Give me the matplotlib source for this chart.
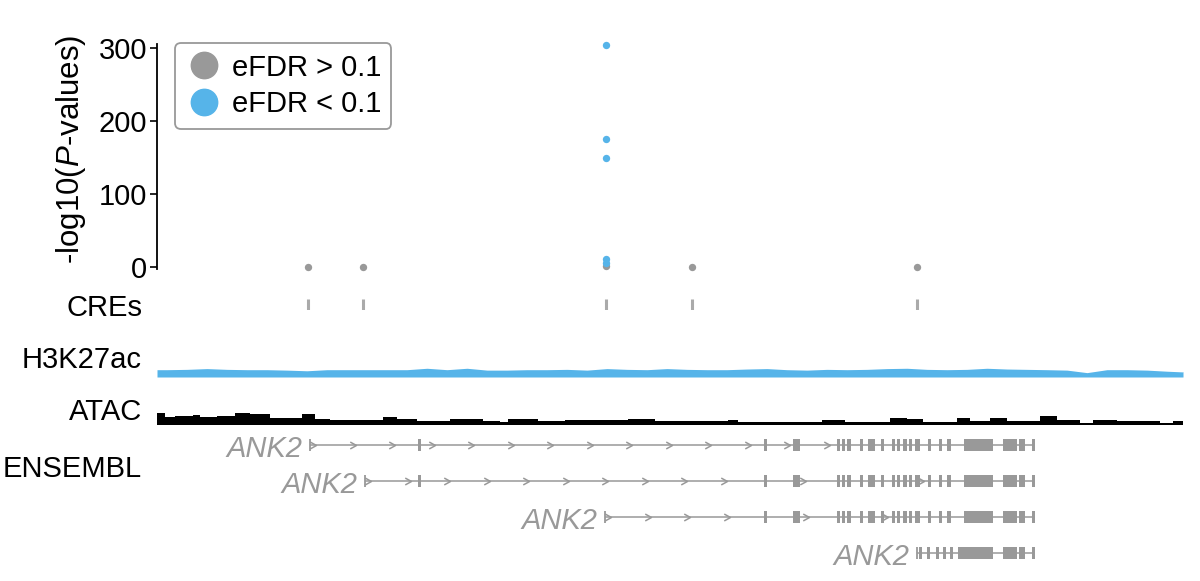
import matplotlib
matplotlib.use('agg')
import matplotlib.pyplot as plt
from matplotlib.lines import Line2D
from matplotlib.patches import Rectangle
from matplotlib.path import Path
import numpy as np

plt.rcParams['font.family'] = ['Liberation Sans', 'DejaVu Sans']
plt.rcParams['mathtext.fontset'] = 'custom'
plt.rcParams['mathtext.rm'] = 'Liberation Sans'
plt.rcParams['mathtext.it'] = 'Liberation Sans:italic'

GREY = '#999999'
BLUE = '#56B4E9'

# region in kb from the left edge of the window
region_end = 513

# CREs and SNP association results
cre_pos = [75.7, 103.2, 224.3, 267.3, 380.2]
grey_pos = [75.7, 103.2, 224.3, 267.3, 380.2]
grey_logp = [0.5, 0.2, 1.5, 0.5, 0.2]
blue_pos = [224.3, 224.3, 224.3, 224.3, 224.3]
blue_logp = [5.5, 10.5, 149, 175, 304]

# H3K27ac signal, 10 kb bins
h3_bin = 10
h3_signal = [1.34, 1.40, 1.54, 1.40, 1.34, 1.34, 1.26, 1.14, 1.34, 1.34,
             1.34, 1.34, 1.34, 1.60, 1.34, 1.60, 1.26, 1.26, 1.34, 1.34,
             1.40, 1.26, 1.54, 1.40, 1.34, 1.54, 1.40, 1.34, 1.34, 1.46,
             1.54, 1.34, 1.26, 1.40, 1.34, 1.40, 1.54, 1.60, 1.40, 1.34,
             1.40, 1.60, 1.46, 1.40, 1.34, 1.26, 0.80, 1.34, 1.34, 1.26,
             1.06, 0.90]

# ATAC signal as steps
atac_start = [0, 4, 9, 18, 21.5, 30, 39, 46.5, 56.5, 60, 72.5, 79, 86.5, 113,
              120, 130, 146.5, 163, 171.5, 175.5, 190.5, 204, 235.5, 249,
              285.5, 290.5, 332.5, 344, 366.5, 375, 383, 400, 406.5, 416.5,
              425, 441.5, 450, 461.5, 468, 480, 501.5, 508]
atac_signal = [2.34, 1.66, 1.80, 2.00, 1.60, 1.86, 2.34, 2.14, 1.34, 1.40,
               2.14, 1.14, 1.00, 1.66, 1.20, 0.86, 1.14, 0.80, 0.66, 1.20,
               0.80, 0.94, 1.20, 0.86, 1.00, 0.66, 1.00, 0.66, 1.46, 1.20,
               0.66, 1.34, 0.80, 1.34, 0.80, 1.80, 1.00, 0.46, 1.00, 0.86,
               0.46, 0.80]

# ENSEMBL transcripts of ANK2 (kb)
shared_exons = [(340.0, 341.5), (342.5, 344.0), (344.75, 346.75), (351.5, 353.0),
                (355.25, 359.0), (362.0, 363.5), (367.5, 369.0), (370.0, 371.5),
                (372.75, 375.0), (376.0, 377.5), (378.75, 381.5), (385.5, 387.0),
                (391.0, 392.5), (394.75, 397.0), (403.5, 418.0), (423.0, 430.0),
                (431.0, 434.0), (437.5, 439.0)]
tx_names = ['ANK2', 'ANK2', 'ANK2', 'ANK2']
tx_start = [76.5, 104.0, 224.0, 380.0]
tx_exons = [
    [(130.5, 132.0), (303.5, 305.0), (317.75, 321.25)] + shared_exons,
    [(130.5, 132.0), (303.5, 305.0), (317.75, 321.25)] + shared_exons,
    [(303.5, 305.0), (317.75, 321.25)] + shared_exons,
    [(381.0, 382.5), (385.0, 386.5), (389.25, 390.75), (393.0, 394.5),
     (396.25, 397.75), (400.5, 418.0), (423.0, 430.0), (431.0, 434.0),
     (437.5, 439.0)],
]

W, H = 1200, 581


def px_box(x0, y0, x1, y1):
    return [x0 / W, 1 - y1 / H, (x1 - x0) / W, (y1 - y0) / H]


fig = plt.figure(figsize=(W / 100, H / 100), dpi=100)

# -log10 P panel
ax = fig.add_axes(px_box(157, 43.6, 1183, 269.2))
ax.scatter(grey_pos, grey_logp, s=28, color=GREY, lw=0, zorder=2, clip_on=False)
ax.scatter(blue_pos, blue_logp, s=28, color=BLUE, lw=0, zorder=3, clip_on=False)
ax.set_xlim(0, region_end)
ax.set_ylim(-3, 306)
ax.set_yticks([0, 100, 200, 300])
ax.tick_params(axis='y', labelsize=21, length=5, width=1.2, pad=2)
ax.set_xticks([])
for side in ['top', 'right', 'bottom']:
    ax.spines[side].set_visible(False)
ax.spines['left'].set_linewidth(1.3)
fig.text(71 / W, 1 - 149 / H, '-log10($\\mathit{P}$-values)', rotation=90,
         ha='center', va='center', fontsize=22.5)

handles = [Line2D([], [], marker='o', ls='', color=GREY, markersize=19),
           Line2D([], [], marker='o', ls='', color=BLUE, markersize=19)]
leg = fig.legend(handles, ['eFDR > 0.1', 'eFDR < 0.1'], loc='upper left',
                 bbox_to_anchor=(175 / W, 1 - 43 / H), borderaxespad=0,
                 fontsize=21, handlelength=1.3, handletextpad=0.28,
                 labelspacing=0.3, borderpad=0.36, fancybox=True,
                 edgecolor=GREY, framealpha=1)
leg.get_frame().set_linewidth(1.3)

# CREs
ax_cre = fig.add_axes(px_box(157, 299, 1183, 310))
ax_cre.vlines(cre_pos, 0, 1, color='#aaaaaa', lw=2.2)
ax_cre.set_xlim(0, region_end)
ax_cre.set_ylim(0, 1)
ax_cre.axis('off')

# H3K27ac
h3_x = np.arange(len(h3_signal)) * h3_bin + h3_bin / 2
h3_x = np.concatenate([[0], h3_x, [region_end]])
h3_y = np.concatenate([[h3_signal[0]], h3_signal, [h3_signal[-1]]])
ax_h3 = fig.add_axes(px_box(157, 347, 1183, 377))
ax_h3.fill_between(h3_x, 0, h3_y, color=BLUE, lw=0)
ax_h3.set_xlim(0, region_end)
ax_h3.set_ylim(0, 5.5)
ax_h3.axis('off')

# ATAC
ax_atac = fig.add_axes(px_box(157, 395, 1183, 425))
ax_atac.fill_between(atac_start + [region_end], 0, atac_signal + [atac_signal[-1]],
                     step='post', color='black', lw=0)
ax_atac.set_xlim(0, region_end)
ax_atac.set_ylim(0, 6)
ax_atac.axis('off')

# ENSEMBL gene models
chevron = Path([(-1, 0.55), (0, 0), (-1, -0.55)],
               [Path.MOVETO, Path.LINETO, Path.LINETO])
ax_g = fig.add_axes(px_box(157, 427, 1183, 571))
for row, (name, start, exons) in enumerate(zip(tx_names, tx_start, tx_exons)):
    end = max(e for s, e in exons)
    ax_g.plot([start, end], [row, row], color=GREY, lw=1.1, solid_capstyle='butt')
    ax_g.plot([start], [row], marker='|', color=GREY, ms=8, mew=1.3)
    for s, e in exons:
        ax_g.add_patch(Rectangle((s, row - 0.17), e - s, 0.34, color=GREY, lw=0))
    marks = []
    x = start + 3
    while x < end:
        if all(x < s - 1 or x > e + 1 for s, e in exons):
            marks.append(x)
        x += 19.75
    ax_g.plot(marks, [row] * len(marks), ls='', marker=chevron, ms=9, mew=1.1,
              mfc='none', color=GREY)
    ax_g.text(start - 4, row + 0.33, name, ha='right', va='baseline',
              fontsize=21, style='italic', color=GREY)
ax_g.set_xlim(0, region_end)
ax_g.set_ylim(3.5, -0.5)
ax_g.axis('off')

# track labels
for label, base in [('CREs', 316), ('H3K27ac', 368), ('ATAC', 420), ('ENSEMBL', 477)]:
    fig.text(142 / W, 1 - base / H, label, ha='right', va='baseline', fontsize=21)

fig.savefig('out.png', dpi=100)
